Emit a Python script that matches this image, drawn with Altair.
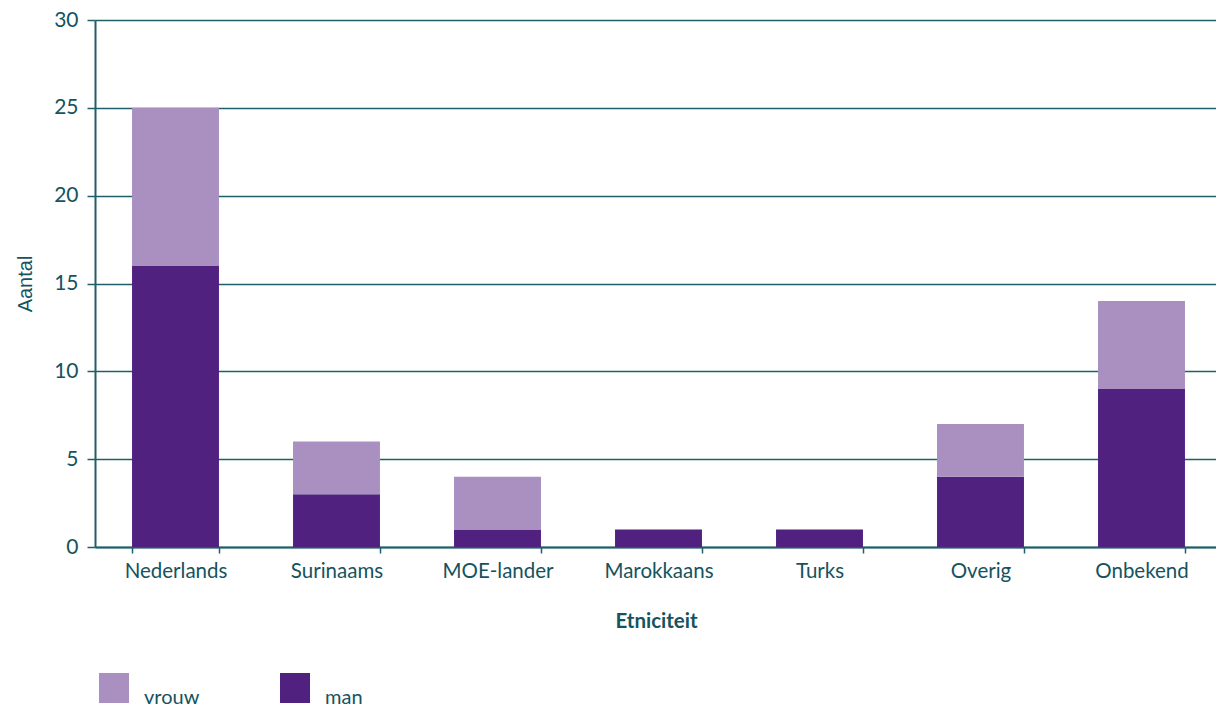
import altair as alt
import pandas as pd

categories = ["Nederlands", "Surinaams", "MOE-lander", "Marokkaans", "Turks", "Overig", "Onbekend"]
man = [16, 3, 1, 1, 1, 4, 9]
vrouw = [9, 3, 3, 0, 0, 3, 5]
series = ["vrouw", "man"]
colors = ["#a990c0", "#512180"]
y_ticks = [0, 5, 10, 15, 20, 25, 30]

rows = []
for c, m, v in zip(categories, man, vrouw):
    rows.append({"Etniciteit": c, "geslacht": "man", "Aantal": m, "volgorde": 0})
    rows.append({"Etniciteit": c, "geslacht": "vrouw", "Aantal": v, "volgorde": 1})
df = pd.DataFrame(rows)

TEXT = "#15535e"
LINE = "#1f5f69"
FONT = "Lato"

chart = alt.Chart(df).mark_bar().encode(
    x=alt.X("Etniciteit:N", sort=categories,
            scale=alt.Scale(paddingInner=0.46, paddingOuter=0.23, range=[0, 1127]),
            axis=alt.Axis(title="Etniciteit", labelAngle=0, tickBand="extent",
                          labelFontSize=20.5, labelColor=TEXT, labelFont=FONT, labelPadding=8,
                          titleFontSize=20.5, titleFontWeight="bold", titleColor=TEXT, titleFont=FONT,
                          titlePadding=30, titleX=561,
                          domainColor=LINE, domainWidth=2, tickColor=LINE, tickSize=6, tickWidth=1.5,
                          grid=False)),
    y=alt.Y("Aantal:Q", stack="zero",
            scale=alt.Scale(domain=[0, 30], nice=False),
            axis=alt.Axis(title="Aantal", values=y_ticks,
                          labelFontSize=21, labelColor=TEXT, labelFont=FONT, labelPadding=9,
                          titleFontSize=20, titleFontWeight="normal", titleColor=TEXT,
                          titleFont="Liberation Sans", titlePadding=18,
                          domainColor=LINE, domainWidth=2, tickColor=LINE, tickSize=8, tickWidth=1.5,
                          grid=True, gridColor=LINE, gridWidth=1.5, gridOpacity=1)),
    color=alt.Color("geslacht:N",
                    scale=alt.Scale(domain=series, range=colors),
                    legend=alt.Legend(title=None, orient="none", legendX=4, legendY=653,
                                      direction="horizontal", columns=2,
                                      symbolType="square", symbolSize=900, symbolStrokeWidth=0,
                                      symbolOpacity=1,
                                      labelFontSize=20, labelColor=TEXT, labelFont=FONT,
                                      labelOffset=15, labelBaseline="top",
                                      columnPadding=80)),
    order=alt.Order("volgorde:Q", sort="ascending"),
).properties(
    width=1121, height=527,
    autosize=alt.AutoSizeParams(type="none"),
    padding={"left": 95, "top": 20, "right": 0, "bottom": 157},
).configure_view(stroke=None).configure(background="white")

chart.save("out.html", embed_options={"renderer": "svg", "actions": False})
